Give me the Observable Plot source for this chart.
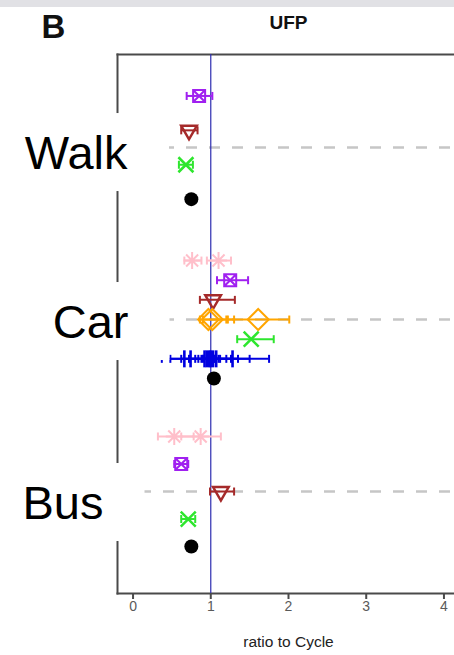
<!DOCTYPE html>
<html>
<head>
<meta charset="utf-8">
<script src="https://cdn.jsdelivr.net/npm/d3@7"></script>
<script src="https://cdn.jsdelivr.net/npm/@observablehq/plot@0.6"></script>
<style>
  html, body { margin: 0; padding: 0; background: #fff; width: 454px; height: 655px; overflow: hidden; }
  #chart { position: absolute; left: 0; top: 0; width: 470px; }
  #chart svg { max-width: none !important; }
  #band { position: absolute; left: 0; top: 0; width: 454px; height: 7px; background: #e1e1e5; }
</style>
</head>
<body>
<div id="chart"></div>
<div id="band"></div>
<script>
// Travel modes, top to bottom
const modes = ["Walk", "Car", "Bus"];

// Studies listed within each mode, top to bottom
const walkStudies = ["s2", "s3", "s5", "s7"];
const carStudies = ["s1", "s2", "s3", "s4", "s5", "s6", "s7"];
const busStudies = ["s1", "s2", "s3", "s5", "s7"];

// UFP ratio to cycling: [study, estimate, lower CI, upper CI]
const walkEst = [
  ["s2", 0.85, 0.69, 1.02],
  ["s3", 0.72, 0.62, 0.83],
  ["s5", 0.68, 0.59, 0.77],
  ["s7", 0.75, null, null]
];
const carEst = [
  ["s1", 0.76, 0.66, 0.88],
  ["s1", 1.10, 0.95, 1.26],
  ["s2", 1.25, 1.08, 1.48],
  ["s3", 1.03, 0.86, 1.31],
  ["s4", 0.97, 0.86, 1.20],
  ["s4", 1.02, 0.90, 1.30],
  ["s4", 1.61, 1.22, 2.01],
  ["s5", 1.52, 1.34, 1.81],
  ["s6", 0.66, 0.48, 0.84],
  ["s6", 0.74, 0.37, 1.10],
  ["s6", 0.92, 0.80, 1.05],
  ["s6", 0.95, 0.62, 1.35],
  ["s6", 0.98, 0.88, 1.12],
  ["s6", 1.00, 0.90, 1.20],
  ["s6", 1.03, 0.72, 1.50],
  ["s6", 1.07, 0.95, 1.26],
  ["s6", 1.28, 1.05, 1.75],
  ["s7", 1.04, null, null]
];
const busEst = [
  ["s1", 0.53, 0.32, 0.78],
  ["s1", 0.87, 0.62, 1.13],
  ["s2", 0.62, 0.53, 0.71],
  ["s3", 1.13, 0.99, 1.30],
  ["s5", 0.71, 0.62, 0.80],
  ["s7", 0.75, null, null]
];

const xTicks = [0, 1, 2, 3, 4];
const xLabel = "ratio to Cycle";
const title = "UFP";
const panelTag = "B";

// ---- marker shapes (base-graphics style symbols) ----
const rad = (size) => Math.sqrt(size / Math.PI);
const asterisk = { draw(c, s) { const r = rad(s), d = r * Math.SQRT1_2;
  c.moveTo(-r, 0); c.lineTo(r, 0); c.moveTo(0, -r); c.lineTo(0, r);
  c.moveTo(-d, -d); c.lineTo(d, d); c.moveTo(-d, d); c.lineTo(d, -d); } };
const boxX = { draw(c, s) { const r = rad(s);
  c.moveTo(-r, -r); c.lineTo(r, -r); c.lineTo(r, r); c.lineTo(-r, r); c.closePath();
  c.moveTo(-r, -r); c.lineTo(r, r); c.moveTo(r, -r); c.lineTo(-r, r); } };
const triDown = { draw(c, s) { const r = rad(s);
  c.moveTo(-r * 0.866, -r * 0.5); c.lineTo(r * 0.866, -r * 0.5); c.lineTo(0, r); c.closePath(); } };
const diamond = { draw(c, s) { const r = rad(s);
  c.moveTo(0, -r); c.lineTo(r, 0); c.lineTo(0, r); c.lineTo(-r, 0); c.closePath(); } };
const cross = { draw(c, s) { const r = rad(s);
  c.moveTo(-r, -r); c.lineTo(r, r); c.moveTo(-r, r); c.lineTo(r, -r); } };
const vbar = { draw(c, s) { const r = rad(s); c.moveTo(0, -r); c.lineTo(0, r); } };

const studyStyle = {
  s1: { color: "#ffbfca", symbol: asterisk, r: 8.5, width: 2 },
  s2: { color: "#a020f0", symbol: boxX, r: 6, width: 2 },
  s3: { color: "#a52a2a", symbol: triDown, r: 9, width: 2.5 },
  s4: { color: "#ffa500", symbol: diamond, r: 10.5, width: 2 },
  s5: { color: "#2ee62e", symbol: cross, r: 7.5, width: 2.5 },
  s6: { color: "#0000e0", symbol: vbar, r: 8.5, width: 2.6 },
  s7: { color: "#000000", symbol: "circle", r: 7, width: 0 }
};

// ---- layout of rows within each mode band ----
const panels = { Walk: walkStudies, Car: carStudies, Bus: busStudies };
const bandShare = 0.8;
function rowY(mode, study) {
  const list = panels[mode], n = list.length, i = list.indexOf(study);
  return modes.indexOf(mode) + (i - (n - 1) / 2) * bandShare / n;
}

const records = [];
[["Walk", walkEst], ["Car", carEst], ["Bus", busEst]].forEach(([mode, rows]) => {
  rows.forEach(([study, est, lo, hi]) => {
    records.push({ mode, study, est, lo, hi, y: rowY(mode, study) });
  });
});

const studyMarks = [];
for (const study of Object.keys(studyStyle)) {
  const st = studyStyle[study];
  const data = records.filter(d => d.study === study);
  const withCI = data.filter(d => d.lo != null);
  const caps = withCI.flatMap(d => [{ x: d.lo, y: d.y }, { x: d.hi, y: d.y }]);
  studyMarks.push(
    Plot.ruleY(withCI, { y: "y", x1: "lo", x2: "hi", stroke: st.color, strokeWidth: 2 }),
    Plot.dot(caps, { x: "x", y: "y", symbol: vbar, r: 4, stroke: st.color, strokeWidth: 2, fill: "none" })
  );
  if (st.symbol === "circle") {
    studyMarks.push(Plot.dot(data, { x: "est", y: "y", r: st.r, fill: st.color, stroke: "none" }));
  } else {
    studyMarks.push(Plot.dot(data, { x: "est", y: "y", symbol: st.symbol, r: st.r,
      stroke: st.color, strokeWidth: st.width, fill: "none" }));
  }
}

// label placement relative to each mode's centre line
const labelShift = {
  Walk: { dx: 10, dy: 21 },
  Car: { dx: 11, dy: 18 },
  Bus: { dx: -14, dy: 27 }
};
const labelMarks = modes.map((m, i) => Plot.text([{ m, i }], {
  y: "i", text: "m", frameAnchor: "left", textAnchor: "end", lineAnchor: "bottom",
  dx: labelShift[m].dx, dy: labelShift[m].dy, fontSize: 47, fill: "#000"
}));

const frameColor = "#4a4a4a";

const chart = Plot.plot({
  width: 459,
  height: 655,
  marginLeft: 117,
  marginRight: 0,
  marginTop: 54,
  marginBottom: 62,
  style: { fontFamily: "'Liberation Sans', Arial, sans-serif", background: "transparent",
    overflow: "visible", maxWidth: "none" },
  x: { domain: [-0.2, 4.2], axis: null },
  y: { domain: [2.593, -0.541], axis: null },
  marks: [
    Plot.ruleY(modes.map((m, i) => i), { stroke: "#c6c6c6", strokeWidth: 2.5, strokeDasharray: "11,12" }),
    Plot.frame({ anchor: "top", stroke: frameColor, strokeWidth: 2 }),
    Plot.frame({ anchor: "left", stroke: frameColor, strokeWidth: 2 }),
    Plot.frame({ anchor: "bottom", stroke: frameColor, strokeWidth: 2 }),
    Plot.ruleX([1], { stroke: "#2c2cb0", strokeWidth: 1.2 }),
    ...studyMarks,
    Plot.axisX({ ticks: xTicks, tickFormat: d => String(d), tickSize: 6, tickPadding: 2,
      stroke: frameColor, strokeWidth: 2, fill: "#5a5a5a", fontSize: 14, label: null }),
    Plot.text([xLabel], { frameAnchor: "bottom", lineAnchor: "bottom", dy: 53,
      fontSize: 15.5, fill: "#222" }),
    Plot.text([title], { frameAnchor: "top", lineAnchor: "bottom", dy: -26,
      fontSize: 19, fontWeight: "bold", fill: "#111" }),
    Plot.text([panelTag], { frameAnchor: "top-left", textAnchor: "start", lineAnchor: "bottom",
      dx: -76, dy: -17, fontSize: 33, fontWeight: "bold", fill: "#111" }),
    ...labelMarks
  ]
});

document.getElementById("chart").append(chart);

// white boxes behind the mode labels, interrupting the frame and centre lines
chart.querySelectorAll("text").forEach(t => {
  if (!modes.includes(t.textContent)) return;
  const bb = t.getBBox();
  const box = document.createElementNS("http://www.w3.org/2000/svg", "rect");
  const cy = bb.y + bb.height / 2;
  box.setAttribute("x", bb.x - 6);
  box.setAttribute("y", cy - 39);
  box.setAttribute("width", bb.width + 6 + 41);
  box.setAttribute("height", 78);
  box.setAttribute("fill", "#fff");
  if (t.getAttribute("transform")) box.setAttribute("transform", t.getAttribute("transform"));
  t.parentNode.insertBefore(box, t);
});
</script>
</body>
</html>
